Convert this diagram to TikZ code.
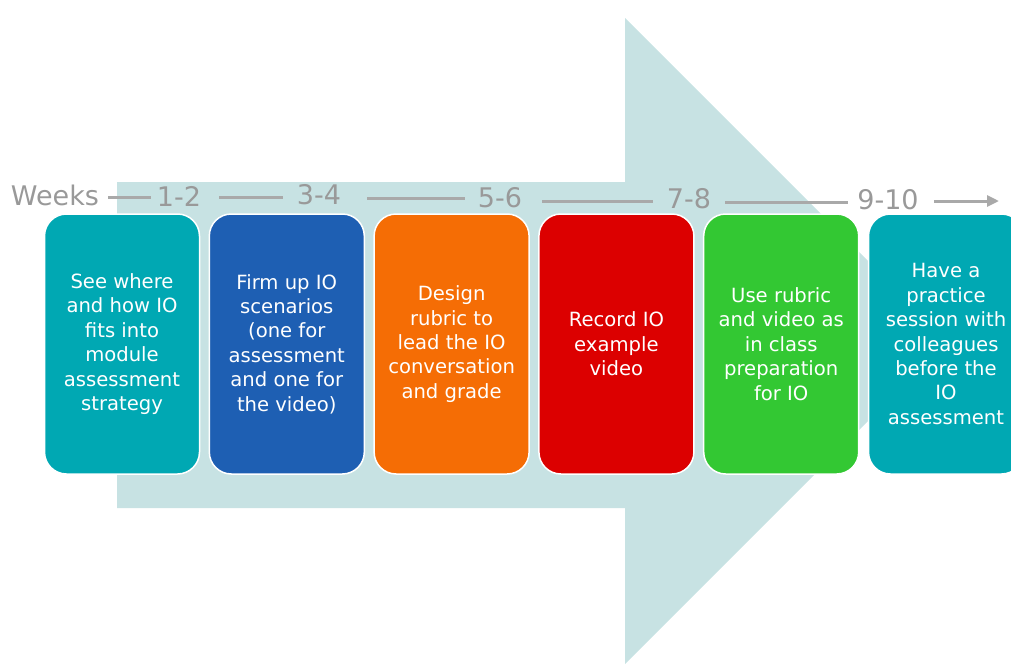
\documentclass[tikz,border=0pt]{standalone}
\usepackage{fontspec}
\setmainfont{DejaVu Sans}
\usetikzlibrary{arrows.meta}

\definecolor{arrowbg}{HTML}{C7E2E3}
\definecolor{tealbox}{HTML}{00A8B3}
\definecolor{bluebox}{HTML}{1E5FB3}
\definecolor{orangebox}{HTML}{F56D05}
\definecolor{redbox}{HTML}{DC0000}
\definecolor{greenbox}{HTML}{33C833}
\definecolor{weekgray}{HTML}{999999}
\definecolor{linegray}{HTML}{A9A9A9}

\begin{document}
\begin{tikzpicture}[x=1pt,y=-1pt,
  stepbox/.style={rectangle, rounded corners=22pt, draw=white, line width=1.5pt,
    minimum width=155pt, minimum height=260pt, text=white, align=center,
    inner sep=0pt, font=\fontsize{19.6}{24.4}\selectfont},
  weeklabel/.style={text=weekgray, inner sep=0pt, text height=19pt, text depth=0pt,
    font=\fontsize{27}{31}\selectfont},
  weekline/.style={draw=linegray, line width=3pt}]
\useasboundingbox (0,0) rectangle (1011,664);

% large background arrow
\fill[arrowbg] (117,182) -- (625,182) -- (625,18) -- (948,341) -- (625,664)
  -- (625,508) -- (117,508) -- cycle;

% timeline of weeks
\node[weeklabel] (weeks) at (55,196) {Weeks};
\node[weeklabel] (w12) at (179,197) {1-2};
\node[weeklabel] (w34) at (319,195) {3-4};
\node[weeklabel] (w56) at (500,198) {5-6};
\node[weeklabel] (w78) at (689,199) {7-8};
\node[weeklabel] (w910) at (888,200) {9-10};
\coordinate (wend) at (999,201);

% start points of the segments between the labels
\coordinate (l1) at ([xshift=9pt,yshift=-1pt]weeks.east);
\coordinate (l2) at ([xshift=18pt]w12.east);
\coordinate (l3) at ([xshift=26pt,yshift=-3pt]w34.east);
\coordinate (l4) at ([xshift=20pt,yshift=-3pt]w56.east);
\coordinate (l5) at ([xshift=14pt,yshift=-3pt]w78.east);

\draw[weekline] (l1) -- ([xshift=-6pt]w12.west |- l1);
\draw[weekline] (l2) -- ([xshift=-14pt]w34.west |- l2);
\draw[weekline] (l3) -- ([xshift=-13pt]w56.west |- l3);
\draw[weekline] (l4) -- ([xshift=-14pt]w78.west |- l4);
\draw[weekline] (l5) -- ([xshift=-9pt]w910.west |- l5);
\draw[weekline, -{Triangle[length=12pt,width=11pt]}] ([xshift=15pt]w910.east |- wend) -- (wend);

% activity boxes
\node[stepbox, fill=tealbox] (s1) at (122,344)
  {See where\\and how IO\\fits into\\module\\assessment\\strategy};
\node[stepbox, fill=bluebox] (s2) at (286.8,344)
  {Firm up IO\\scenarios\\(one for\\assessment\\and one for\\the video)};
\node[stepbox, fill=orangebox] (s3) at (451.6,344)
  {Design\\rubric to\\lead the IO\\conversation\\and grade};
\node[stepbox, fill=redbox] (s4) at (616.4,344)
  {Record IO\\example\\video};
\node[stepbox, fill=greenbox] (s5) at (781.2,344)
  {Use rubric\\and video as\\in class\\preparation\\for IO};
\node[stepbox, fill=tealbox] (s6) at (946,344)
  {Have a\\practice\\session with\\colleagues\\before the\\IO\\assessment};
\end{tikzpicture}
\end{document}
